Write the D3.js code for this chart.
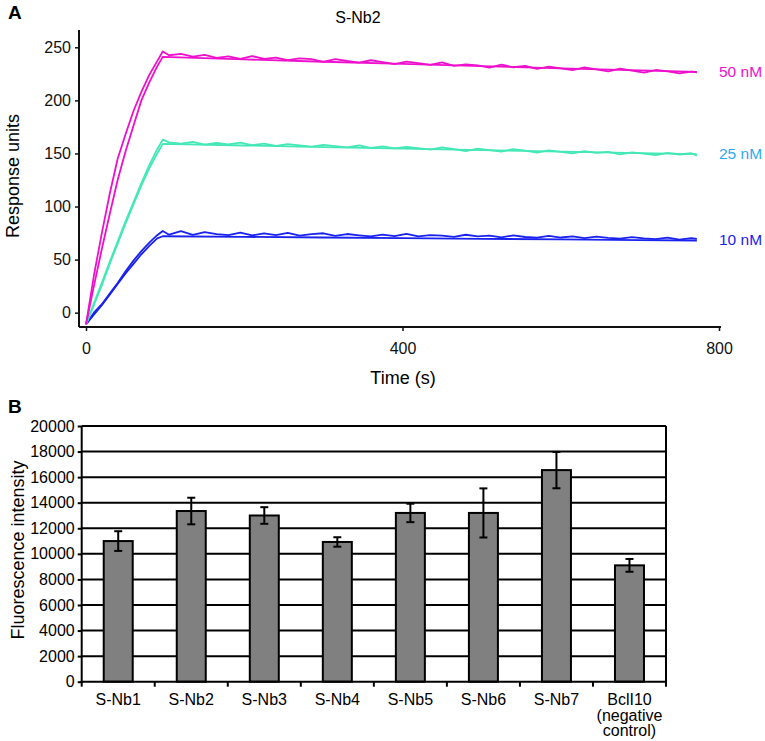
<!DOCTYPE html>
<html><head><meta charset="utf-8">
<script src="https://cdn.jsdelivr.net/npm/d3@7"></script>
<style>body{margin:0;background:#fff;} text{font-family:"Liberation Sans",Arial,sans-serif;}</style>
</head><body>
<svg id="c" width="765" height="741"></svg>
<script>
// ---------- Panel A data ----------
const seriesNames = ["50 nM","25 nM","10 nM"];
const assocTimes = [0,10,20,30,40,50,60,70,80,90,97];
const dissocTimesRaw = [105,120,135,150,165,180,195,210,225,240,255,270,285,300,315,330,345,360,375,390,405,420,435,450,465,480,495,510,525,540,555,570,585,600,615,630,645,660,675,690,705,720,735,750,765,772];
const dissocTimesFit = [200,300,400,500,600,700,772];

const raw50 = [-11,35,75,112,145,168,190,208,224,237,246,
 242.5,243.8,241.2,242.9,240.1,241.5,239.2,241.8,239.0,240.3,237.9,239.6,238.8,236.2,238.9,237.1,235.6,237.8,236.0,234.2,236.5,235.1,233.4,235.8,232.6,234.0,232.9,230.8,233.7,231.2,232.4,229.6,231.8,230.1,228.5,231.0,229.2,227.4,229.8,228.0,226.2,228.6,227.3,225.4,227.0,226.5];
const fit50 = [-11,25,60,93,125,152,176,200,217,232,241, 238.6,236.4,234.3,232.2,230.2,228.2,226.8];

const raw25 = [-11,9,28,48,67,86,104,122,139,154,163,
 160.5,159.2,160.8,158.4,159.9,158.6,160.2,157.9,159.3,157.2,158.8,157.6,156.4,158.1,156.9,155.8,157.5,155.3,156.6,154.8,156.2,155.0,153.6,155.7,154.1,152.3,154.6,153.2,151.8,154.0,152.6,150.9,152.8,151.4,150.0,152.2,150.6,151.5,149.2,151.0,149.8,148.4,150.5,149.0,150.2,148.0];
const fit25 = [-11,7,26,46,65,84,102,120,136,150,159, 157.5,156.0,154.6,153.2,151.8,150.4,149.4];

const raw10 = [-11,0,8,18,28,39,49,58,66,73,77,
 73.5,76.8,73.2,75.9,74.0,73.1,75.4,72.8,74.6,73.0,75.2,72.6,73.9,74.8,72.4,74.1,72.9,71.8,73.6,72.2,74.3,71.9,73.0,72.5,71.4,73.4,71.8,72.6,70.9,72.8,71.3,70.6,72.3,70.8,71.9,70.2,71.6,70.4,69.8,71.2,70.0,69.2,70.6,68.8,70.3,69.6];
const fit10 = [-11,-2,7,17,27,37,46,55,63,70,72, 71.4,70.8,70.2,69.6,69.0,68.4,68.0];

const yTicksA = [0,50,100,150,200,250];
const xTicksA = [0,400,800];

// ---------- Panel B data ----------
const categories = ["S-Nb1","S-Nb2","S-Nb3","S-Nb4","S-Nb5","S-Nb6","S-Nb7","BclI10"];
const categoryLines = [["S-Nb1"],["S-Nb2"],["S-Nb3"],["S-Nb4"],["S-Nb5"],["S-Nb6"],["S-Nb7"],["BclI10","(negative","control)"]];
const intensity = [11000,13350,13000,10930,13200,13200,16550,9100];
const errorSize = [770,1040,650,370,720,1920,1420,500];
const yTicksB = [0,2000,4000,6000,8000,10000,12000,14000,16000,18000,20000];

// ---------- drawing ----------
const svg = d3.select("#c");
const colors = ["#ee10cc","#44e8b6","#1a22f0"];
const labelColors = ["#ee10cc","#2eaaf0","#1a22f0"];

const xA = d3.scaleLinear().domain([-8.85, 802.5]).range([79, 721]);
const yA = d3.scaleLinear().domain([-13.5, 266.3]).range([327, 30]);

const gA = svg.append("g");
const rawTimes = assocTimes.concat(dissocTimesRaw);
const fitTimes = assocTimes.concat(dissocTimesFit);
const line = d3.line().x(d=>xA(d[0])).y(d=>yA(d[1]));
const raws = [raw50, raw25, raw10], fits = [fit50, fit25, fit10];
[2,1,0].forEach(i=>{
  gA.append("path").attr("d", line(fitTimes.map((t,j)=>[t,fits[i][j]])))
    .attr("fill","none").attr("stroke",colors[i]).attr("stroke-width",1.8).attr("stroke-linejoin","round");
  gA.append("path").attr("d", line(rawTimes.map((t,j)=>[t,raws[i][j]])))
    .attr("fill","none").attr("stroke",colors[i]).attr("stroke-width",1.8).attr("stroke-linejoin","round");
});

// axes A
const axL = gA.append("g").attr("transform","translate(79,0)")
  .call(d3.axisLeft(yA).tickValues(yTicksA).tickSize(4).tickPadding(4));
axL.select(".domain").remove();
axL.selectAll("line").attr("stroke","#111").attr("stroke-width",1.5);
axL.selectAll("text").attr("font-size",16).attr("fill","#111");
const axB = gA.append("g").attr("transform","translate(0,327)")
  .call(d3.axisBottom(xA).tickValues(xTicksA).tickSize(4).tickPadding(12));
axB.select(".domain").remove();
axB.selectAll("line").attr("stroke","#111").attr("stroke-width",1.5);
axB.selectAll("text").attr("font-size",16).attr("fill","#111");
gA.append("line").attr("x1",79).attr("x2",79).attr("y1",yA.range()[1]).attr("y2",327).attr("stroke","#111").attr("stroke-width",2);
gA.append("line").attr("x1",79).attr("x2",721).attr("y1",327).attr("y2",327).attr("stroke","#111").attr("stroke-width",2);

gA.append("text").attr("x",358).attr("y",23).attr("text-anchor","middle").attr("font-size",16).text("S-Nb2");
gA.append("text").attr("x",403).attr("y",384).attr("text-anchor","middle").attr("font-size",18).text("Time (s)");
gA.append("text").attr("transform","translate(19,176) rotate(-90)").attr("text-anchor","middle").attr("font-size",18).text("Response units");
gA.append("text").attr("x",8).attr("y",19).attr("font-size",19).attr("font-weight","bold").text("A");

const endVals = [fit50[fit50.length-1], fit25[fit25.length-1], fit10[fit10.length-1]];
seriesNames.forEach((n,i)=>{
  gA.append("text").attr("x",719).attr("y",yA(endVals[i])+5).attr("font-family","'Open Sans',sans-serif")
    .attr("font-size",15.5).attr("fill",labelColors[i]).text(n);
});

// ---------- Panel B ----------
const gB = svg.append("g");
const xB = d3.scaleBand().domain(categories).range([81.7, 666]).padding(0);
const yB = d3.scaleLinear().domain([0,20000]).range([681.7, 426]);

gB.selectAll("line.grid").data(yTicksB.slice(1)).enter().append("line")
  .attr("x1",81.7).attr("x2",666).attr("y1",d=>yB(d)).attr("y2",d=>yB(d))
  .attr("stroke","#000").attr("stroke-width",2);
gB.append("line").attr("x1",666).attr("x2",666).attr("y1",yB(20000)).attr("y2",yB(0)).attr("stroke","#000").attr("stroke-width",2);

const bw = 29;
gB.selectAll("rect.bar").data(categories).enter().append("rect")
  .attr("x",d=>xB(d)+xB.bandwidth()/2-bw/2).attr("width",bw)
  .attr("y",(d,i)=>yB(intensity[i])).attr("height",(d,i)=>yB(0)-yB(intensity[i]))
  .attr("fill","#808080").attr("stroke","#000").attr("stroke-width",2);

categories.forEach((c,i)=>{
  const cx = xB(c)+xB.bandwidth()/2;
  const y1 = yB(intensity[i]+errorSize[i]), y2 = yB(intensity[i]-errorSize[i]);
  gB.append("line").attr("x1",cx).attr("x2",cx).attr("y1",y1).attr("y2",y2).attr("stroke","#000").attr("stroke-width",2);
  [y1,y2].forEach(y=>gB.append("line").attr("x1",cx-4).attr("x2",cx+4).attr("y1",y).attr("y2",y).attr("stroke","#000").attr("stroke-width",2));
});

const ayB = gB.append("g").attr("transform","translate(81.7,0)")
  .call(d3.axisLeft(yB).tickValues(yTicksB).tickSize(4).tickPadding(3).tickFormat(d3.format("d")));
ayB.select(".domain").remove();
ayB.selectAll("line").attr("stroke","#000").attr("stroke-width",2);
ayB.selectAll("text").attr("font-size",16).attr("fill","#000");
gB.append("line").attr("x1",81.7).attr("x2",81.7).attr("y1",yB(20000)).attr("y2",yB(0)+1).attr("stroke","#000").attr("stroke-width",2);
gB.append("line").attr("x1",80.7).attr("x2",667).attr("y1",yB(0)).attr("y2",yB(0)).attr("stroke","#000").attr("stroke-width",2);
// category boundary ticks
const bounds = categories.map(c=>xB(c)).concat([xB.range()[1]]);
gB.selectAll("line.bt").data(bounds).enter().append("line")
  .attr("x1",d=>d).attr("x2",d=>d).attr("y1",yB(0)).attr("y2",yB(0)+5).attr("stroke","#000").attr("stroke-width",2);

categoryLines.forEach((lines,i)=>{
  const cx = xB(categories[i])+xB.bandwidth()/2;
  lines.forEach((t,k)=>{
    gB.append("text").attr("x",cx).attr("y",705+k*15.5).attr("text-anchor","middle").attr("font-size",16).text(t);
  });
});

gB.append("text").attr("transform","translate(24,550) rotate(-90)").attr("text-anchor","middle").attr("font-size",18).text("Fluorescence intensity");
gB.append("text").attr("x",8).attr("y",413).attr("font-size",19).attr("font-weight","bold").text("B");
</script>
</body></html>
